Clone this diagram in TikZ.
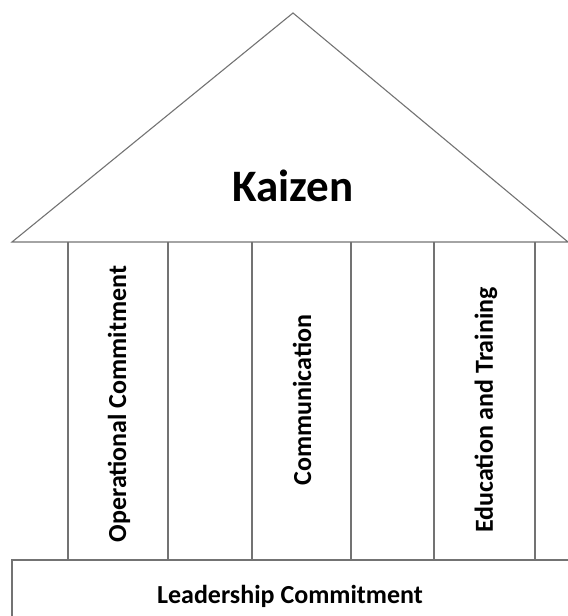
\documentclass[tikz,border=0pt]{standalone}
\usepackage{fontspec}
\setmainfont{Carlito}
\tikzset{
  wall/.style={draw=black!55, line width=1.1bp},
  pillartext/.style={font=\bfseries\fontsize{26bp}{30bp}\selectfont, inner sep=0pt, rotate=90},
}
\begin{document}
\begin{tikzpicture}[x=1bp, y=-1bp]
\useasboundingbox (0,0) rectangle (568,616);
\clip (0,0) rectangle (568,616);
% roof
\coordinate (eaveL) at (12,242);
\coordinate (apex) at (293,13);
\coordinate (eaveR) at (568,242);
\draw[wall] (eaveL) -- (apex) -- (eaveR) -- cycle;
\node[font=\bfseries\fontsize{45bp}{54bp}\selectfont, inner sep=0pt] (kaizen) at (293,186) {Kaizen};

% pillars
\foreach \l/\r in {68/168, 252/351, 434/535}
  \draw[wall] (\l,242) -- (\l,560) (\r,242) -- (\r,560);
\node[pillartext] (operational) at (119,404) {Operational Commitment};
\node[pillartext] (communication) at (302,400) {Communication};
\node[pillartext] (education) at (486,410) {Education and Training};

% base
\draw[wall] (12,630) -- (12,560) -- (580,560);
\node[font=\bfseries\fontsize{26bp}{30bp}\selectfont, inner sep=0pt] (leadership) at (290,596) {Leadership Commitment};
\end{tikzpicture}
\end{document}
